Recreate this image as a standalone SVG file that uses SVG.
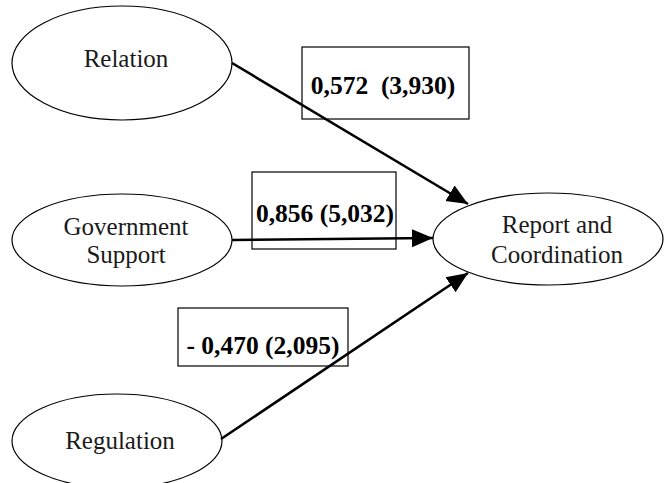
<svg xmlns="http://www.w3.org/2000/svg" width="665" height="483" viewBox="0 0 665 483">
<style>
.node ellipse{fill:#fff;stroke:#000;stroke-width:1.2}
.lbl rect{fill:none;stroke:#000;stroke-width:1.2}
.t{font-family:"Liberation Serif","Times New Roman",serif;font-size:25px;fill:#1a1a1a;text-anchor:middle}
.b{font-family:"Liberation Serif","Times New Roman",serif;font-size:25.5px;font-weight:bold;fill:#000;text-anchor:middle;white-space:pre}
.edge{stroke:#000;stroke-width:2.6;fill:none}
</style>
<defs>
<marker id="arr" markerUnits="userSpaceOnUse" markerWidth="22" markerHeight="20" refX="21" refY="9" orient="auto" viewBox="0 0 22 18">
<path d="M0,0 L21,9 L0,18 z" fill="#000"/>
</marker>
</defs>
<rect width="665" height="483" fill="#fff"/>
<g id="relation" class="node">
<ellipse cx="122" cy="63" rx="110" ry="57"/>
<text class="t" x="126" y="67">Relation</text>
</g>
<g id="government" class="node">
<ellipse cx="122" cy="240" rx="110" ry="46"/>
<text class="t" x="126" y="235">Government</text>
<text class="t" x="126" y="263">Support</text>
</g>
<g id="regulation" class="node">
<ellipse cx="117" cy="441" rx="105" ry="47"/>
<text class="t" x="120" y="449">Regulation</text>
</g>
<g id="report" class="node">
<ellipse cx="548" cy="239" rx="115" ry="46"/>
<text class="t" x="557" y="233">Report and</text>
<text class="t" x="557" y="263">Coordination</text>
</g>
<g id="connectors">
<line class="edge" x1="232" y1="63" x2="468" y2="204" marker-end="url(#arr)"/>
<line class="edge" x1="232" y1="240" x2="433" y2="238" marker-end="url(#arr)"/>
<line class="edge" x1="221" y1="439" x2="468" y2="273" marker-end="url(#arr)"/>
</g>
<g id="label1" class="lbl">
<rect x="302" y="47" width="167" height="72"/>
<text class="b" x="383" y="94" xml:space="preserve">0,572  (3,930)</text>
</g>
<g id="label2" class="lbl">
<rect x="252" y="172" width="144" height="77"/>
<text class="b" x="325" y="222">0,856 (5,032)</text>
</g>
<g id="label3" class="lbl">
<rect x="178" y="308" width="170" height="58"/>
<text class="b" x="263" y="354">- 0,470 (2,095)</text>
</g>
</svg>
